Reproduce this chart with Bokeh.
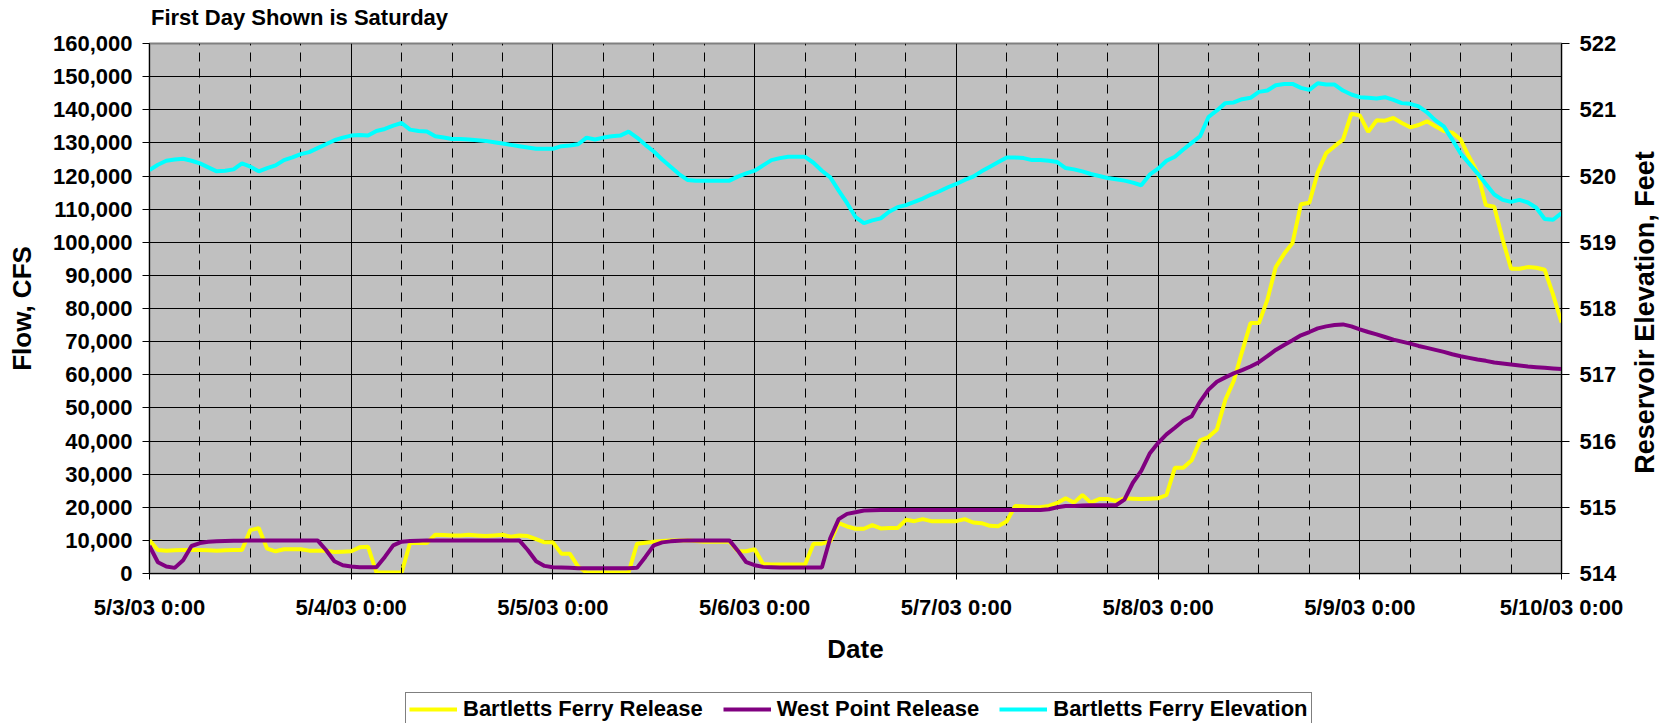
import math
from bokeh.plotting import figure
from bokeh.layouts import column, row
from bokeh.models import (Range1d, LinearAxis, FixedTicker, SingleIntervalTicker,
                          NumeralTickFormatter, Legend, LegendItem, Label)
from bokeh.embed import file_html
from bokeh.resources import INLINE

# ---- data (hours since 5/3/03 0:00, hourly readings) ----
hours = list(range(169))

day_ticks = [0, 24, 48, 72, 96, 120, 144, 168]
day_labels = ["5/3/03 0:00", "5/4/03 0:00", "5/5/03 0:00", "5/6/03 0:00",
              "5/7/03 0:00", "5/8/03 0:00", "5/9/03 0:00", "5/10/03 0:00"]
six_hour_ticks = [6, 12, 18, 30, 36, 42, 54, 60, 66, 78, 84, 90, 102, 108, 114,
                  126, 132, 138, 150, 156, 162]

bartletts_release = [
    10000, 7100, 6900, 7000, 7100, 7100, 7100, 7000, 6900, 7000,
    7100, 7100, 13100, 13700, 7500, 6700, 7300, 7300, 7300, 6900,
    6900, 6900, 6500, 6600, 6700, 7900, 8100, 300, 300, 300,
    300, 9200, 9200, 9200, 11700, 11600, 11500, 11500, 11700, 11500,
    11300, 11500, 11700, 11100, 11500, 11300, 10400, 9400, 9400, 6000,
    6000, 2100, 300, 300, 300, 300, 300, 300, 9000, 9300,
    9600, 9800, 10000, 10000, 10000, 9800, 9600, 9600, 9600, 9600,
    6700, 6700, 7300, 2900, 2700, 2700, 2700, 2700, 2700, 9000,
    9000, 9700, 15200, 14200, 13500, 13500, 14600, 13600, 13700, 13700,
    16200, 15800, 16400, 15800, 15800, 15800, 15800, 16400, 15400, 15200,
    14400, 14300, 15800, 20400, 20200, 20000, 20000, 20400, 21300, 22700,
    21400, 23700, 21400, 22500, 22500, 21900, 22700, 22600, 22500, 22600,
    22700, 23700, 31900, 31900, 34200, 40200, 41200, 43500, 52400, 58100,
    67000, 75600, 75600, 82600, 92500, 96500, 99800, 111500, 111900, 121100,
    126900, 129000, 131000, 138800, 138300, 133300, 136800, 136700, 137500, 136000,
    134700, 135400, 136500, 135000, 133600, 133100, 131000, 125800, 121100, 111200,
    110700, 100800, 92000, 92000, 92500, 92300, 91700, 84200, 75800]

west_point_release = [
    8300, 3400, 2100, 1700, 4000, 8300, 9200, 9600, 9700, 9800,
    9900, 9900, 10000, 10000, 10000, 10000, 10000, 10000, 10000, 10000,
    10000, 7100, 3700, 2500, 2100, 1900, 1900, 1900, 5000, 8500,
    9600, 9800, 9900, 10000, 10000, 10000, 10000, 10000, 10000, 10000,
    10000, 10000, 10000, 10000, 10000, 7100, 3700, 2300, 1900, 1800,
    1700, 1600, 1600, 1600, 1600, 1600, 1600, 1600, 1700, 5000,
    8500, 9400, 9700, 9900, 10000, 10000, 10000, 10000, 10000, 10000,
    6900, 3400, 2500, 2000, 1900, 1800, 1800, 1800, 1800, 1800,
    1800, 10700, 16400, 18000, 18500, 19000, 19100, 19200, 19200, 19200,
    19200, 19200, 19200, 19200, 19200, 19200, 19200, 19200, 19200, 19200,
    19200, 19200, 19200, 19200, 19200, 19200, 19200, 19400, 20000, 20400,
    20400, 20500, 20600, 20600, 20600, 20600, 22300, 27400, 31000, 36200,
    39400, 42000, 44000, 46100, 47500, 51900, 55500, 57900, 59200, 60400,
    61400, 62500, 63800, 65600, 67500, 69000, 70400, 71900, 72900, 74000,
    74600, 75000, 75200, 74600, 73700, 72900, 72200, 71400, 70600, 70000,
    69400, 68700, 68100, 67500, 66900, 66200, 65600, 65100, 64600, 64200,
    63700, 63400, 63100, 62800, 62500, 62300, 62100, 61900, 61700]

bartletts_elevation = [
    520.09, 520.17, 520.23, 520.25, 520.26, 520.23, 520.19, 520.13, 520.07, 520.08,
    520.10, 520.19, 520.14, 520.07, 520.12, 520.16, 520.24, 520.28, 520.33, 520.36,
    520.42, 520.48, 520.54, 520.58, 520.61, 520.62, 520.61, 520.68, 520.71, 520.76,
    520.80, 520.70, 520.68, 520.67, 520.60, 520.58, 520.56, 520.56, 520.55, 520.54,
    520.53, 520.51, 520.49, 520.47, 520.45, 520.43, 520.41, 520.41, 520.41, 520.45,
    520.46, 520.48, 520.58, 520.55, 520.58, 520.60, 520.61, 520.67, 520.58, 520.47,
    520.37, 520.25, 520.14, 520.03, 519.94, 519.93, 519.93, 519.93, 519.93, 519.93,
    519.99, 520.04, 520.08, 520.16, 520.24, 520.27, 520.29, 520.29, 520.29, 520.20,
    520.08, 519.98, 519.78, 519.59, 519.38, 519.29, 519.33, 519.36, 519.46, 519.53,
    519.56, 519.61, 519.66, 519.72, 519.77, 519.83, 519.88, 519.94, 519.99, 520.07,
    520.14, 520.21, 520.28, 520.28, 520.27, 520.24, 520.24, 520.23, 520.21, 520.12,
    520.10, 520.07, 520.03, 520.00, 519.97, 519.95, 519.93, 519.90, 519.86, 520.02,
    520.11, 520.23, 520.29, 520.40, 520.50, 520.60, 520.89, 520.99, 521.10, 521.11,
    521.16, 521.18, 521.27, 521.29, 521.37, 521.39, 521.39, 521.33, 521.30, 521.40,
    521.38, 521.38, 521.29, 521.23, 521.19, 521.18, 521.17, 521.19, 521.15, 521.10,
    521.09, 521.05, 520.96, 520.84, 520.75, 520.55, 520.34, 520.19, 520.04, 519.88,
    519.72, 519.64, 519.61, 519.64, 519.60, 519.52, 519.35, 519.34, 519.44]

series_names = ["Bartletts Ferry Release", "West Point Release", "Bartletts Ferry Elevation"]
series_colors = ["#FFFF00", "#800080", "#00FFFF"]
title_text = "First Day Shown is Saturday"
right_title_text = "Reservoir Elevation, Feet"

FONT = "Liberation Sans"


def blank(width, height):
    f = figure(width=width, height=height, x_range=Range1d(0, width),
               y_range=Range1d(0, height), min_border=0,
               x_axis_location=None, y_axis_location=None,
               output_backend="svg", toolbar_location=None,
               background_fill_color="white", border_fill_color="white",
               outline_line_color=None)
    f.grid.visible = False
    return f


# ---- header with title ----
header = blank(1667, 30)
header.add_layout(Label(x=150.5, y=13.5, text=title_text, text_font=FONT,
                        text_font_style="bold", text_font_size="22px",
                        text_color="black", text_baseline="alphabetic",
                        text_align="left"))

# ---- main chart ----
p = figure(frame_width=1412, frame_height=530,
           x_range=Range1d(0, 168), y_range=Range1d(0, 160000),
           output_backend="svg", toolbar_location=None,
           min_border_left=149, min_border_right=66,
           min_border_top=13, min_border_bottom=117,
           background_fill_color="#C0C0C0", border_fill_color="white",
           outline_line_color="#808080", outline_line_width=2)

p.extra_y_ranges = {"elev": Range1d(514, 522)}

p.xaxis.ticker = FixedTicker(ticks=day_ticks, minor_ticks=six_hour_ticks)
p.xaxis.major_label_overrides = {t: l for t, l in zip(day_ticks, day_labels)}
p.xaxis.axis_label = "Date"
p.xaxis.major_tick_out = 6
p.xaxis.major_tick_in = 0
p.xaxis.minor_tick_in = 6
p.xaxis.minor_tick_out = 0
p.xaxis.major_label_standoff = 15
p.xaxis.axis_label_standoff = 11

p.yaxis.ticker = SingleIntervalTicker(interval=10000, num_minor_ticks=0)
p.yaxis.formatter = NumeralTickFormatter(format="0,0")
p.yaxis.axis_label = "Flow, CFS"
p.yaxis.major_tick_out = 7
p.yaxis.major_tick_in = 0
p.yaxis.major_label_standoff = 10
p.yaxis.axis_label_standoff = 13

ax_r = LinearAxis(y_range_name="elev",
                  ticker=SingleIntervalTicker(interval=1, num_minor_ticks=0))
ax_r.major_tick_out = 8
ax_r.major_tick_in = 0
ax_r.major_label_standoff = 10
p.add_layout(ax_r, "right")

for ax in [p.xaxis[0], p.yaxis[0], ax_r]:
    ax.axis_line_color = "black"
    ax.major_tick_line_color = "black"
    ax.minor_tick_line_color = "black"
    ax.major_label_text_font = FONT
    ax.major_label_text_font_style = "bold"
    ax.major_label_text_font_size = "22px"
    ax.major_label_text_color = "black"
    ax.axis_label_text_font = FONT
    ax.axis_label_text_font_style = "bold"
    ax.axis_label_text_font_size = "26px"
    ax.axis_label_text_color = "black"

p.xgrid.grid_line_color = "black"
p.xgrid.grid_line_width = 1
p.xgrid.minor_grid_line_color = "black"
p.xgrid.minor_grid_line_dash = "9 7"
p.ygrid.grid_line_color = "black"
p.ygrid.grid_line_width = 1

p.line(hours, bartletts_release, line_color=series_colors[0], line_width=4)
p.line(hours, west_point_release, line_color=series_colors[1], line_width=4)
p.line(hours, bartletts_elevation, line_color=series_colors[2], line_width=4,
       y_range_name="elev")

# ---- right-hand axis title (reads bottom to top) ----
side = blank(40, 660)
side.add_layout(Label(x=17, y=325, text=right_title_text, angle=math.pi / 2,
                      text_font=FONT, text_font_style="bold", text_font_size="27px",
                      text_color="black", text_baseline="alphabetic",
                      text_align="center"))

# ---- legend strip (series drawn here fall outside its range; only the key shows) ----
leg_fig = blank(1667, 33)
items = []
for name, color, vals in zip(series_names, series_colors,
                             [bartletts_release, west_point_release, bartletts_elevation]):
    r = leg_fig.line(hours, vals, line_color=color, line_width=4)
    items.append(LegendItem(label=name, renderers=[r]))
legend = Legend(items=items, orientation="horizontal", location=(405, -3),
                label_text_font=FONT, label_text_font_style="bold",
                label_text_font_size="22px", label_text_color="black",
                glyph_width=48, glyph_height=24, label_height=26,
                label_standoff=6, spacing=20,
                padding=3, margin=0, border_line_color="black", border_line_width=1,
                background_fill_color="white", background_fill_alpha=1)
leg_fig.add_layout(legend)

layout = column(header, row(p, side), leg_fig)

open("out.html", "w").write(file_html(layout, INLINE))
